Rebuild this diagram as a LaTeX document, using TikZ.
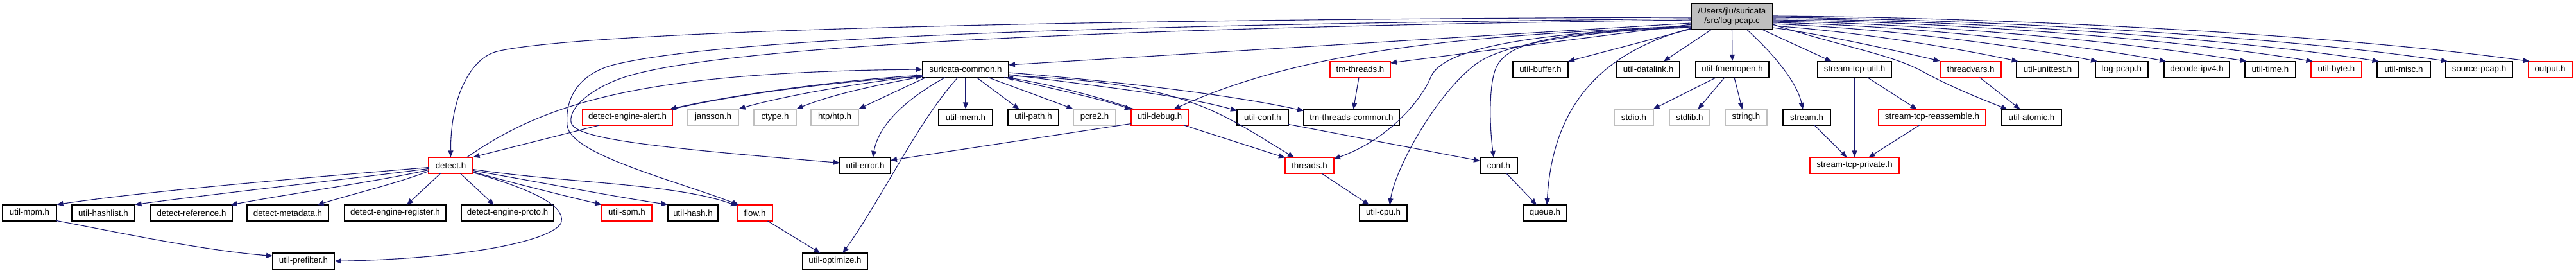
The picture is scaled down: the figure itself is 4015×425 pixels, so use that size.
\documentclass[tikz,border=0pt]{standalone}
\usepackage{fontspec}
\setmainfont{Liberation Sans}
\usetikzlibrary{arrows.meta,calc}
\definecolor{edgeblue}{HTML}{191970}
\definecolor{lgray}{HTML}{BFBFBF}
\definecolor{nred}{HTML}{FF0000}
\begin{document}
\begin{tikzpicture}[x=1pt,y=-1pt,
 box/.style={draw=black,line width=1.1pt,fill=white,inner sep=0pt,minimum height=25pt,font=\fontsize{13.3}{15}\selectfont},
 rbox/.style={box,draw=nred},
 gbox/.style={box,draw=lgray},
 topbox/.style={box,fill=lgray,minimum height=40pt,align=center},
 edge/.style={draw=edgeblue,line width=1.1pt,-{Triangle[length=10pt,width=8pt]}}]
\useasboundingbox (0,0) rectangle (4015,425);

% ---------- nodes ----------
\node[topbox,minimum width=127pt] (lp) at (2699.5,26) {/Users/jlu/suricata\\/src/log-pcap.c};
% row 1
\node[box,minimum width=134pt] (sc) at (1505,108) {suricata-common.h};
\node[rbox,minimum width=94pt] (tmt) at (2120,108) {tm-threads.h};
\node[box,minimum width=86pt] (ubuf) at (2401,108) {util-buffer.h};
\node[box,minimum width=98pt] (udl) at (2569,108) {util-datalink.h};
\node[box,minimum width=114pt] (ufm) at (2700,108) {util-fmemopen.h};
\node[box,minimum width=115pt] (stu) at (2890.5,108) {stream-tcp-util.h};
\node[rbox,minimum width=95pt] (tv) at (3071.5,108) {threadvars.h};
\node[box,minimum width=97pt] (uut) at (3191.5,108) {util-unittest.h};
\node[box,minimum width=82pt] (lph) at (3307,108) {log-pcap.h};
\node[box,minimum width=102pt] (dip4) at (3424,108) {decode-ipv4.h};
\node[box,minimum width=79pt] (utime) at (3538.5,108) {util-time.h};
\node[rbox,minimum width=79pt] (ubyte) at (3641.5,108) {util-byte.h};
\node[box,minimum width=83pt] (umisc) at (3746.5,108) {util-misc.h};
\node[box,minimum width=104pt] (spcap) at (3864,108) {source-pcap.h};
\node[rbox,minimum width=69pt] (outp) at (3974.5,108) {output.h};
% row 2
\node[rbox,minimum width=140pt] (dea) at (978,182.5) {detect-engine-alert.h};
\node[gbox,minimum width=79pt] (jan) at (1111.5,182.5) {jansson.h};
\node[gbox,minimum width=66pt] (cty) at (1208,182.5) {ctype.h};
\node[gbox,minimum width=74pt] (htp) at (1301,182.5) {htp/htp.h};
\node[box,minimum width=84pt] (umem) at (1505,182.5) {util-mem.h};
\node[box,minimum width=79pt] (upath) at (1610.5,182.5) {util-path.h};
\node[gbox,minimum width=66pt] (pcre) at (1706,182.5) {pcre2.h};
\node[rbox,minimum width=89pt] (udbg) at (1807.5,182.5) {util-debug.h};
\node[box,minimum width=80pt] (uconf) at (1968,182.5) {util-conf.h};
\node[box,minimum width=149pt] (tmtc) at (2106.5,182.5) {tm-threads-common.h};
\node[gbox,minimum width=61pt] (stdio) at (2546.5,182.5) {stdio.h};
\node[gbox,minimum width=63pt] (stdlib) at (2633.5,182.5) {stdlib.h};
\node[gbox,minimum width=65pt] (strh) at (2721.5,182.5) {string.h};
\node[box,minimum width=74pt] (strm) at (2816,182.5) {stream.h};
\node[rbox,minimum width=167pt] (str) at (3011.5,182.5) {stream-tcp-reassemble.h};
\node[box,minimum width=93pt] (uat) at (3166.5,182.5) {util-atomic.h};
% row 3
\node[rbox,minimum width=69pt] (det) at (702.5,257.5) {detect.h};
\node[box,minimum width=79pt] (uerr) at (1348.5,257.5) {util-error.h};
\node[rbox,minimum width=76pt] (thr) at (2041,257.5) {threads.h};
\node[box,minimum width=58pt] (conf) at (2336,257.5) {conf.h};
\node[rbox,minimum width=139pt] (stp) at (2890.5,257.5) {stream-tcp-private.h};
% row 4
\node[box,minimum width=84pt] (umpm) at (46,331.5) {util-mpm.h};
\node[box,minimum width=98pt] (uhl) at (161,331.5) {util-hashlist.h};
\node[box,minimum width=127pt] (dref) at (298.5,331.5) {detect-reference.h};
\node[box,minimum width=127pt] (dmeta) at (448.5,331.5) {detect-metadata.h};
\node[box,minimum width=158pt] (der) at (616,331.5) {detect-engine-register.h};
\node[box,minimum width=144pt] (dep) at (791,331.5) {detect-engine-proto.h};
\node[rbox,minimum width=78pt] (uspm) at (977,331.5) {util-spm.h};
\node[box,minimum width=78pt] (uhash) at (1080,331.5) {util-hash.h};
\node[rbox,minimum width=55pt] (flow) at (1176.5,331.5) {flow.h};
\node[box,minimum width=74pt] (ucpu) at (2156,331.5) {util-cpu.h};
\node[box,minimum width=68pt] (queue) at (2408,331.5) {queue.h};
% row 5
\node[box,minimum width=96pt] (upf) at (473,406.5) {util-prefilter.h};
\node[box,minimum width=101pt] (uopt) at (1301.5,406.5) {util-optimize.h};

% ---------- edges from log-pcap.c ----------
\draw[edge] ($(lp)+(-63.5,1)$) .. controls (1600,30) and (900,50) .. (775,80) .. controls (734,90) and (702,150) .. (det.north);
\draw[edge] ($(lp)+(-63.5,3)$) .. controls (1800,38) and (1150,55) .. (960,100) .. controls (905,113) and (880,150) .. (884,195) .. controls (888,240) and (1050,280) .. ($(flow)+(-25,-12.5)$);
\draw[edge] ($(lp)+(-63.5,5)$) .. controls (1800,42) and (1150,68) .. (980,118) .. controls (929,133) and (886,165) .. (890,190) .. controls (894,215) and (1000,228) .. ($(uerr)+(-39.5,-4)$);
\draw[edge] ($(lp)+(-63.5,10)$) -- ($(sc)+(67,-7)$);
\draw[edge] ($(lp)+(-63.5,12)$) -- ($(tmt)+(47,-10)$);
\draw[edge] ($(lp)+(-63.5,14)$) .. controls (2350,55) and (2060,65) .. ($(udbg)+(22,-12.5)$);
\draw[edge] ($(lp)+(-63.5,15)$) .. controls (2420,50) and (2250,70) .. (2230,120) .. controls (2218,150) and (2170,215) .. ($(thr)+(38,-10)$);
\draw[edge] ($(lp)+(-63.5,16)$) .. controls (2450,50) and (2340,70) .. (2300,100) .. controls (2240,145) and (2175,260) .. ($(ucpu)+(10,-12.5)$);
\draw[edge] ($(lp)+(-63.5,17)$) .. controls (2420,50) and (2345,65) .. (2330,110) .. controls (2320,140) and (2322,200) .. ($(conf)+(-8,-12.5)$);
\draw[edge] ($(lp)+(-63.5,18)$) .. controls (2500,80) and (2420,160) .. ($(queue)+(3,-12.5)$);
\draw[edge] ($(lp)+(-63.5,19)$) -- ($(ubuf)+(43,-12.5)$);
\draw[edge] ($(lp)+(-32,20)$) -- ($(udl)+(24,-12.5)$);
\draw[edge] (lp.south) -- (ufm.north);
\draw[edge] ($(lp)+(23,20)$) .. controls (2760,80) and (2800,125) .. ($(strm)+(-6,-12.5)$);
\draw[edge] ($(lp)+(47,20)$) -- ($(stu)+(-36,-12.5)$);
\draw[edge] ($(lp)+(63.5,12)$) .. controls (2880,75) and (2950,85) .. (3000,113) .. controls (3040,135) and (3090,155) .. ($(uat)+(-38,-12.5)$);
\draw[edge] ($(lp)+(63.5,17)$) .. controls (2850,55) and (2960,80) .. (tv.north west);
\draw[edge] ($(lp)+(63.5,14)$) .. controls (2900,50) and (3050,75) .. ($(uut)+(-46,-12.5)$);
\draw[edge] ($(lp)+(63.5,11)$) .. controls (2950,45) and (3150,72) .. ($(lph)+(-38,-12.5)$);
\draw[edge] ($(lp)+(63.5,9)$) .. controls (2980,40) and (3230,68) .. ($(dip4)+(-48,-12.5)$);
\draw[edge] ($(lp)+(63.5,7)$) .. controls (3020,37) and (3320,66) .. ($(utime)+(-37,-12.5)$);
\draw[edge] ($(lp)+(63.5,5)$) .. controls (3050,34) and (3400,62) .. ($(ubyte)+(-37,-12.5)$);
\draw[edge] ($(lp)+(63.5,3)$) .. controls (3080,32) and (3480,60) .. ($(umisc)+(-39,-12.5)$);
\draw[edge] ($(lp)+(63.5,1)$) .. controls (3100,30) and (3560,57) .. ($(spcap)+(-49,-12.5)$);
\draw[edge] ($(lp)+(63.5,-1)$) .. controls (3120,27) and (3640,53) .. ($(outp)+(-32,-12.5)$);

% ---------- edges around suricata-common.h ----------
\draw[edge] (sc.south) -- (umem.north);
\draw[edge] ($(sc)+(17,12.5)$) -- ($(upath)+(-22,-12.5)$);
\draw[edge] ($(sc)+(35,12.5)$) -- (pcre.north west);
\draw[edge] ($(sc)+(60,12.5)$) .. controls (1650,140) and (1720,155) .. ($(udbg)+(-44.5,-12)$);
\draw[edge] ($(udbg)+(-40,-12.5)$) .. controls (1710,150) and (1640,132) .. ($(sc)+(64,12.5)$);
\draw[edge] ($(sc)+(67,8)$) .. controls (1720,135) and (1850,150) .. ($(uconf)+(-40,-10)$);
\draw[edge] ($(sc)+(67,5)$) .. controls (1760,128) and (1930,150) .. ($(tmtc)+(-74.5,-10)$);
\draw[edge] ($(sc)+(67,10)$) .. controls (1850,128) and (1900,175) .. ($(thr)+(-24,-12.5)$);
\draw[edge] ($(sc)+(-32,12.5)$) .. controls (1420,150) and (1370,190) .. ($(uerr)+(12,-12.5)$);
\draw[edge] ($(sc)+(-12,12.5)$) .. controls (1430,190) and (1380,300) .. ($(uopt)+(12,-12.5)$);
\draw[edge] ($(sc)+(-62,12.5)$) -- (htp.north east);
\draw[edge] ($(sc)+(-66,11)$) .. controls (1350,135) and (1290,150) .. (cty.north east);
\draw[edge] ($(sc)+(-67,10)$) .. controls (1330,130) and (1220,150) .. (jan.north east);
\draw[edge] ($(sc)+(-67,9)$) .. controls (1300,125) and (1130,150) .. ($(dea)+(66,-12.5)$);
\draw[edge] ($(dea)+(70,-12.5)$) .. controls (1140,148) and (1300,127) .. ($(sc)+(-67,11)$);
\draw[edge] ($(det)+(25,-12.5)$) .. controls (850,160) and (1000,112) .. (sc.west);

% ---------- detect.h ----------
\draw[edge] ($(dea)+(-44,12.5)$) -- (det.north east);
\draw[edge] ($(det)+(-34.5,3)$) .. controls (500,275) and (250,295) .. (umpm.north east);
\draw[edge] ($(det)+(-34.5,5)$) .. controls (550,278) and (350,300) .. (uhl.north east);
\draw[edge] ($(det)+(-34.5,7)$) .. controls (590,282) and (450,302) .. ($(dref)+(61,-12.5)$);
\draw[edge] ($(det)+(-34.5,9)$) .. controls (620,285) and (550,302) .. ($(dmeta)+(46,-12.5)$);
\draw[edge] ($(det)+(-16,12.5)$) -- ($(der)+(18,-12.5)$);
\draw[edge] ($(det)+(15,12.5)$) -- ($(dep)+(-21,-12.5)$);
\draw[edge] ($(det)+(34.5,10)$) .. controls (800,285) and (880,305) .. (uspm.north west);
\draw[edge] ($(det)+(34.5,8)$) .. controls (850,285) and (950,305) .. (uhash.north west);
\draw[edge] ($(det)+(34.5,6)$) .. controls (880,285) and (1050,285) .. ($(flow)+(-27.5,-11)$);
\draw[edge] ($(det)+(34.5,11)$) .. controls (830,295) and (880,320) .. (875,345) .. controls (870,370) and (750,402) .. (upf.east);
\draw[edge] ($(umpm)+(42,12)$) .. controls (200,365) and (320,390) .. ($(upf)+(-48,-8)$);
\draw[edge] ($(flow)+(20,12.5)$) -- ($(uopt)+(-23,-12.5)$);

% ---------- others ----------
\draw[edge] ($(udbg)+(-44.5,10)$) -- ($(uerr)+(39.5,-8)$);
\draw[edge] ($(udbg)+(38,12.5)$) -- ($(thr)+(-38,-12)$);
\draw[edge] ($(uconf)+(40,11)$) -- ($(conf)+(-29,-7)$);
\draw[edge] ($(tmt)+(-2,12.5)$) -- ($(tmtc)+(3,-12.5)$);
\draw[edge] ($(thr)+(19,12.5)$) -- ($(ucpu)+(-22,-12.5)$);
\draw[edge] ($(conf)+(12,12.5)$) -- ($(queue)+(-13,-12.5)$);
\draw[edge] ($(ufm)+(-25,12.5)$) -- ($(stdio)+(30,-12.5)$);
\draw[edge] ($(ufm)+(-12,12.5)$) -- ($(stdlib)+(13,-12.5)$);
\draw[edge] ($(ufm)+(3,12.5)$) -- ($(strh)+(-6,-12.5)$);
\draw[edge] (stu.south) -- (stp.north);
\draw[edge] ($(stu)+(20,12.5)$) -- ($(str)+(-24,-12.5)$);
\draw[edge] ($(strm)+(12,12.5)$) -- ($(stp)+(-12,-12.5)$);
\draw[edge] ($(str)+(-20,12.5)$) -- ($(stp)+(22,-12.5)$);
\draw[edge] ($(tv)+(14,12.5)$) -- ($(uat)+(-18,-12.5)$);
\end{tikzpicture}
\end{document}
